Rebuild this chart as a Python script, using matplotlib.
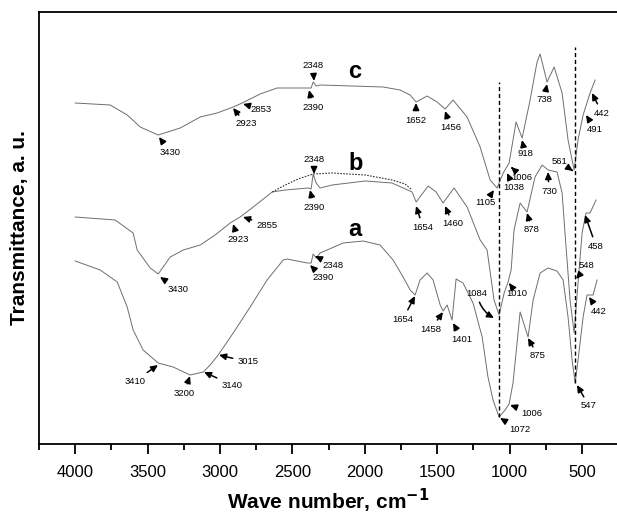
import numpy as np
import matplotlib
matplotlib.use("Agg")
import matplotlib.pyplot as plt
from matplotlib.ticker import MultipleLocator

plt.rcParams['font.family'] = ['Liberation Sans', 'DejaVu Sans']

# spectrum c (top)
c_wn = [4000, 3758, 3641, 3551, 3427, 3275, 3137, 3020, 2909, 2847, 2723, 2606,
        2398, 2371, 2357, 2336, 2309, 1874, 1757, 1687, 1646, 1570, 1501, 1446,
        1391, 1294, 1204, 1135, 1087, 1045, 1004, 977, 956, 914, 859, 811, 790,
        742, 693, 638, 597, 555, 528, 493, 445, 410]
c_tr = [341, 339, 329, 317, 309, 316, 327, 331, 337, 341, 350, 356,
        356, 356, 362, 358, 359, 357, 354, 349, 342, 348, 342, 335,
        344, 327, 297, 264, 256, 271, 281, 304, 322, 306, 344, 382, 390,
        362, 377, 351, 304, 274, 304, 329, 351, 364]

# spectrum b (middle)
b_wn = [4000, 3724, 3600, 3572, 3482, 3427, 3344, 3254, 3137, 3034, 2930, 2861,
        2771, 2640, 2550, 2392, 2371, 2357, 2336, 2309, 2226, 1998, 1812, 1674,
        1646, 1563, 1508, 1460, 1384, 1294, 1204, 1156, 1108, 1073, 1038, 1011,
        990, 970, 928, 880, 825, 776, 735, 673, 638, 618, 583, 555, 528, 500,
        473, 445, 404]
b_tr = [227, 224, 211, 194, 176, 170, 187, 194, 199, 209, 221, 227,
        237, 252, 254, 256, 255, 270, 261, 256, 259, 263, 261, 252,
        242, 258, 252, 241, 256, 237, 204, 194, 144, 129, 151, 162,
        174, 214, 241, 232, 267, 279, 274, 272, 251, 211, 144, 111, 161, 211,
        231, 231, 244]

# dotted baseline drawn over b
bd_wn = [2640, 2550, 2461, 2357, 2226, 1998, 1812, 1722, 1674]
bd_tr = [252, 259, 265, 270, 271, 269, 264, 260, 254]

# spectrum a (bottom)
a_wn = [4000, 3827, 3710, 3641, 3600, 3531, 3427, 3324, 3206, 3116, 3068, 3013,
        2909, 2792, 2675, 2564, 2537, 2398, 2371, 2357, 2336, 2309, 2150, 2012,
        1895, 1805, 1736, 1687, 1653, 1619, 1570, 1529, 1480, 1460, 1432, 1398,
        1370, 1322, 1253, 1190, 1150, 1115, 1073, 1032, 1004, 977, 949, 928,
        873, 838, 790, 735, 673, 631, 597, 569, 548, 528, 493, 466, 424, 397]
a_tr = [183, 174, 162, 137, 114, 94, 81, 77, 69, 72, 79, 89,
        111, 137, 164, 184, 185, 181, 181, 190, 186, 191, 201, 203,
        199, 184, 167, 154, 149, 164, 171, 164, 139, 133, 139, 124,
        165, 161, 141, 107, 67, 44, 27, 34, 40, 61, 101, 132,
        107, 144, 171, 176, 173, 164, 127, 84, 61, 84, 127, 149, 149, 164]

# vertical guide lines: wavenumber, top, bottom
guide_wn = [1073, 548]
guide_top = [362, 397]
guide_bot = [27, 61]

# peak labels: text, text centre (image px), arrow tip (image px)
peaks = [
    ("3430", (170, 152), (159, 137)), ("2923", (246, 124), (233, 108)),
    ("2853", (261, 109), (243, 104)), ("2390", (313, 107), (309, 90)),
    ("2348", (313, 66), (314, 81)), ("1652", (416, 120), (416, 103)),
    ("1456", (451, 128), (445, 111)), ("1105", (485, 203), (494, 190)),
    ("1038", (514, 188), (507, 173)), ("1006", (522, 177), (511, 167)),
    ("918", (525, 154), (522, 140)), ("738", (544, 100), (547, 84)),
    ("442", (602, 113), (592, 93)), ("491", (595, 129), (586, 115)),
    ("561", (560, 162), (573, 171)),
    ("3430", (178, 289), (160, 277)), ("2923", (238, 239), (233, 224)),
    ("2855", (267, 225), (243, 217)), ("2390", (314, 207), (310, 190)),
    ("2348", (314, 159), (314, 174)), ("1654", (423, 227), (416, 206)),
    ("1460", (453, 224), (445, 206)), ("1010", (517, 294), (509, 283)),
    ("878", (532, 230), (527, 213)), ("730", (549, 191), (548, 172)),
    ("458", (596, 246), (585, 215)), ("548", (587, 266), (576, 279)),
    ("3410", (135, 381), (158, 365)), ("3200", (184, 393), (190, 376)),
    ("3140", (232, 385), (204, 372)), ("3015", (248, 362), (219, 355)),
    ("2390", (323, 278), (310, 265)), ("2348", (333, 265), (315, 256)),
    ("1654", (403, 319), (415, 296)), ("1458", (431, 329), (443, 312)),
    ("1401", (462, 339), (453, 323)), ("1072", (520, 430), (500, 418)),
    ("1006", (532, 413), (510, 405)), ("875", (538, 356), (528, 338)),
    ("547", (589, 406), (577, 385)), ("442", (599, 311), (589, 297)),
]
letters = [("c", (355, 71)), ("b", (356, 163)), ("a", (355, 230))]

W, H = 617, 514


def fig_xy(p):
    return (p[0] / W, 1 - p[1] / H)


fig = plt.figure(figsize=(W / 100, H / 100), dpi=100)
ax = fig.add_axes([39 / W, 1 - 444 / H, 1 - 39 / W, (444 - 12) / H])

line_kw = dict(color="#6e6e6e", lw=0.7)
ax.plot(c_wn, c_tr, **line_kw)
ax.plot(b_wn, b_tr, **line_kw)
ax.plot(a_wn, a_tr, **line_kw)
ax.plot(bd_wn, bd_tr, color="#333333", lw=0.8, ls=(0, (1.5, 1.2)))
ax.vlines(guide_wn, guide_bot, guide_top, colors="black", lw=1.0,
          linestyles=(0, (3, 2)))

ax.set_xlim(4250, 259)
ax.set_ylim(0, 432)
ax.xaxis.set_major_locator(MultipleLocator(500))
ax.xaxis.set_minor_locator(MultipleLocator(250))
ax.set_yticks([])
ax.spines['right'].set_visible(False)
for s in ['left', 'bottom', 'top']:
    ax.spines[s].set_linewidth(1.3)
ax.tick_params(axis='x', which='major', length=7, width=1.3, labelsize=12,
               direction='out', pad=8)
ax.tick_params(axis='x', which='minor', length=4, width=1.3, direction='out')

ax.set_xlabel("Wave number, cm$^{\\mathbf{-1}}$", fontsize=15,
              fontweight='bold', labelpad=5)
ax.set_ylabel("Transmittance, a. u.", fontsize=15, fontweight='bold',
              labelpad=7)

arrow = dict(arrowstyle="-|>,head_length=0.6,head_width=0.28", color="black",
             lw=1.1, shrinkA=1.5, shrinkB=0)
for txt, tpos, tip in peaks:
    ax.annotate(txt, xy=fig_xy(tip), xycoords='figure fraction',
                xytext=fig_xy(tpos), textcoords='figure fraction',
                fontsize=6.8, ha='center', va='center', arrowprops=arrow)

# curved arrow for 1084 on b
ax.annotate("1084", xy=fig_xy((494, 318)), xycoords='figure fraction',
            xytext=fig_xy((477, 293)), textcoords='figure fraction',
            fontsize=6.8, ha='center', va='center',
            arrowprops=dict(arrow, connectionstyle="arc3,rad=0.25"))

for txt, pos in letters:
    fx, fy = fig_xy(pos)
    fig.text(fx, fy, txt, fontsize=17, fontweight='bold', ha='center',
             va='center')

fig.savefig("out.png", dpi=100)
